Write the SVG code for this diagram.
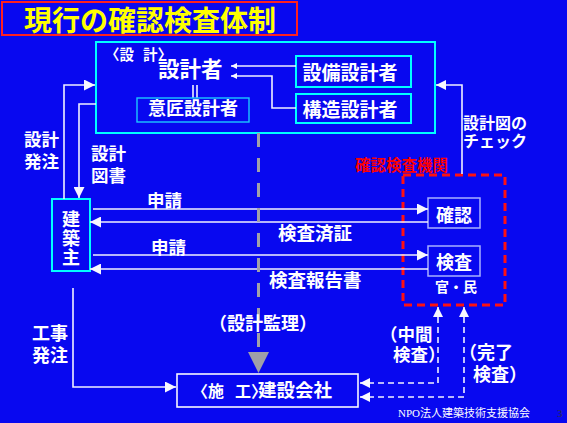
<svg xmlns="http://www.w3.org/2000/svg" width="567" height="423" viewBox="0 0 567 423">
<style>
.t{font-family:"Noto Sans CJK JP","Noto Sans",sans-serif;fill:#fff;font-weight:bold}
.ln{fill:none;stroke:#f0f0ff;stroke-width:1.6}
.dl{fill:none;stroke:#f0f0ff;stroke-width:1.6;stroke-dasharray:6 4}
.cy{fill:none;stroke:#00ffff;stroke-width:2}
.cy1{fill:none;stroke:#1cc8ff;stroke-width:1.4}
.lav{fill:none;stroke:#a8b0ff;stroke-width:1.5}
</style>
<defs>
<marker id="ah" markerUnits="userSpaceOnUse" markerWidth="11" markerHeight="11" refX="11" refY="5.5" orient="auto"><path d="M0,0 L11,5.5 L0,11 z" fill="#f8f8ff"/></marker>
<marker id="ahs" markerUnits="userSpaceOnUse" markerWidth="6" markerHeight="6" refX="6" refY="3" orient="auto"><path d="M0,0 L6,3 L0,6 z" fill="#f8f8ff"/></marker>
<marker id="ahd" markerUnits="userSpaceOnUse" markerWidth="10" markerHeight="10" refX="10" refY="5" orient="auto"><path d="M0,0 L10,5 L0,10 z" fill="#f8f8ff"/></marker>
<marker id="ahd0" markerUnits="userSpaceOnUse" markerWidth="10" markerHeight="10" refX="10" refY="5" orient="auto-start-reverse"><path d="M0,0 L10,5 L0,10 z" fill="#f8f8ff"/></marker>
</defs>
<rect x="0" y="0" width="567" height="423" fill="#0808f0"/>

<g id="title">
<rect x="2" y="2" width="295" height="33" fill="none" stroke="#ff2020" stroke-width="2"/>
<text x="150" y="30.5" text-anchor="middle" font-family="'Noto Sans CJK JP',sans-serif" font-weight="bold" font-size="28" fill="#ffff00">現行の確認検査体制</text>
</g>

<g id="design">
<rect class="cy" x="96" y="42" width="339" height="91"/>
<text class="t" x="105" y="60" font-size="14.5" font-weight="normal">〈設</text>
<text class="t" x="143" y="60" font-size="14.5">計〉</text>
<text class="t" x="158" y="77" font-size="21.5">設計者</text>
<path class="ln" d="M193,85 V98 M197,85 V98"/>
</g>
<g id="isho">
<rect class="cy1" x="137" y="98" width="112" height="24"/>
<text class="t" x="193" y="115" font-size="18" text-anchor="middle">意匠設計者</text>
</g>
<g id="setsubi">
<rect class="cy" x="296" y="56" width="115" height="31"/>
<text class="t" x="350" y="80" font-size="19" text-anchor="middle">設備設計者</text>
</g>
<g id="kozo">
<rect class="cy" x="296" y="94" width="115" height="29"/>
<text class="t" x="350" y="117" font-size="19" text-anchor="middle">構造設計者</text>
</g>

<g id="owner">
<rect class="cy" x="52" y="199" width="38" height="72"/>
<text class="t" x="71" y="226" font-size="18" text-anchor="middle">建</text>
<text class="t" x="71" y="245" font-size="18" text-anchor="middle">築</text>
<text class="t" x="71" y="264" font-size="18" text-anchor="middle">主</text>
</g>

<g id="agency">
<rect x="403" y="175" width="102" height="130" fill="none" stroke="#ff1010" stroke-width="3" stroke-dasharray="8 5"/>
<text x="355" y="171" font-family="'Noto Sans CJK JP',sans-serif" font-weight="bold" font-size="15.5" fill="#ff0000">確認検査機関</text>
<text class="t" x="456" y="292" font-size="14" text-anchor="middle">官・民</text>
</g>
<g id="kakunin">
<rect class="lav" x="428" y="198" width="52" height="30"/>
<text class="t" x="454" y="222" font-size="18" text-anchor="middle">確認</text>
</g>
<g id="kensa">
<rect class="lav" x="428" y="246" width="52" height="30"/>
<text class="t" x="454" y="269" font-size="18" text-anchor="middle">検査</text>
</g>

<g id="contractor">
<rect x="177" y="374" width="181" height="33" fill="none" stroke="#f8f8ff" stroke-width="1.6"/>
<text class="t" x="192" y="397" font-size="16" font-weight="normal">〈施</text>
<text class="t" x="235" y="397" font-size="16" font-weight="normal">工〉</text>
<text class="t" x="258" y="397" font-size="18.5">建設会社</text>
</g>

<g id="connectors">
<path class="ln" d="M64,199 V85 H95" marker-end="url(#ah)"/>
<path class="ln" d="M96,104 H79 V198" marker-end="url(#ah)"/>
<path class="ln" d="M93,209 H428" marker-end="url(#ah)"/>
<path class="ln" d="M428,222 H90" marker-end="url(#ah)"/>
<path class="ln" d="M93,255 H428" marker-end="url(#ah)"/>
<path class="ln" d="M428,269 H90" marker-end="url(#ah)"/>
<path class="ln" d="M462,174 V85 H436" marker-end="url(#ahd)"/>
<path class="ln" d="M296,66 H231" marker-end="url(#ahs)"/>
<path class="ln" d="M296,108 H272 V76 H231" marker-end="url(#ahs)"/>
<path class="ln" d="M73,288 V387 H176" marker-end="url(#ah)"/>
<path class="dl" d="M438,307 V383 H360" marker-start="url(#ahd0)" marker-end="url(#ahd)"/>
<path class="dl" d="M464,307 V397 H360" marker-start="url(#ahd0)" marker-end="url(#ahd)"/>
<path d="M258.5,133 V350" fill="none" stroke="#a0a0a8" stroke-width="3" stroke-dasharray="14 11"/>
<polygon points="248,352 269,352 258.5,373" fill="#a0a0a8"/>
</g>

<g id="labels">
<text class="t" x="24" y="146" font-size="17.5">設計</text>
<text class="t" x="24" y="168" font-size="17.5">発注</text>
<text class="t" x="91" y="160" font-size="17.5">設計</text>
<text class="t" x="91" y="182" font-size="17.5">図書</text>
<text class="t" x="463" y="129" font-size="16">設計図の</text>
<text class="t" x="463" y="147" font-size="16">チェック</text>
<text class="t" x="147" y="207" font-size="17.5">申請</text>
<text class="t" x="151" y="254" font-size="17.5">申請</text>
<text class="t" x="278" y="240" font-size="18.5">検査済証</text>
<text class="t" x="269" y="287" font-size="18.5">検査報告書</text>
<text class="t" x="209" y="330" font-size="18">（設計監理）</text>
<text class="t" x="380" y="341" font-size="17.5">（中間</text>
<text class="t" x="393" y="361" font-size="17.5">検査）</text>
<text class="t" x="459" y="359" font-size="18">（完了</text>
<text class="t" x="473" y="381" font-size="18">検査）</text>
<text class="t" x="32" y="340" font-size="18">工事</text>
<text class="t" x="32" y="362" font-size="18">発注</text>
<text x="398" y="417" font-family="'Liberation Serif','Noto Sans CJK JP',serif" font-size="11" fill="#fff">NPO法人建築技術支援協会</text>
<text x="557" y="417" font-family="'Liberation Serif',serif" font-size="11" fill="#303040">3</text>
</g>
</svg>
